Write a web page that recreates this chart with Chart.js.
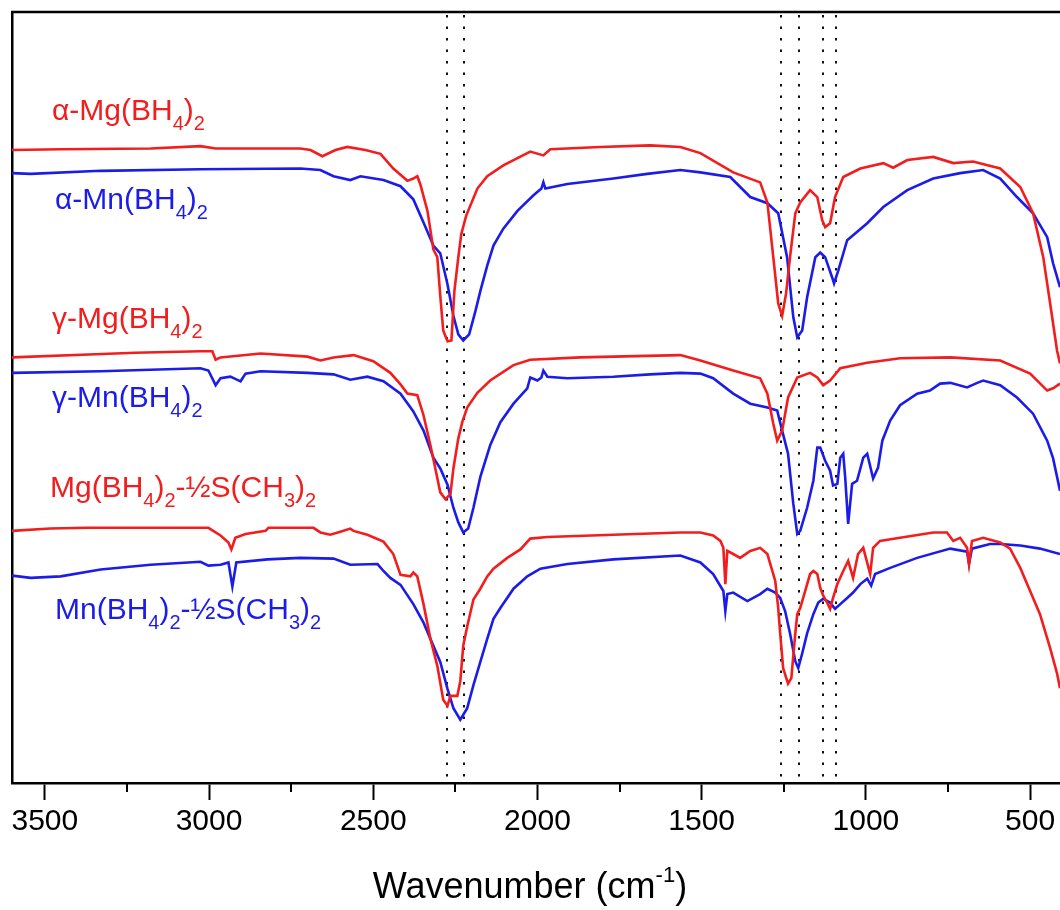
<!DOCTYPE html>
<html>
<head>
<meta charset="utf-8">
<script src="https://cdn.jsdelivr.net/npm/chart.js@4.4.1/dist/chart.umd.min.js"></script>
<style>
  html, body { margin: 0; padding: 0; background: #fff; }
</style>
</head>
<body>
<canvas id="espectro" width="1060" height="910"></canvas>
<script>
// IR spectra, wavenumber (cm-1) vs offset transmittance (a.u.)
let aMgWn = [3600,3452,3178,3026,2980,2722,2691,2655,2615,2579,2524,2478,2439,2396,2378,2366,2357,2335,2317,2305,2296,2287,2274,2262,2253,2241,2232,2217,2183,2153,2104,2022,1982,1961,1809,1657,1565,1504,1404,1322,1300,1282,1267,1255,1243,1231,1215,1200,1170,1148,1133,1124,1109,1094,1069,1017,947,917,874,795,734,674,591,530,491,460,439,418,409];
let aMgT = [82.1,82.2,82.3,82.6,82.3,82.3,82.1,81.3,82.1,82.5,82.1,81.6,79.7,78.1,78.4,78.7,77.7,74.2,69.2,68.2,63.2,58.7,57.3,57.4,63.8,68.2,71.2,73.6,77.1,78.7,80.1,81.9,81.4,82.2,82.5,82.7,82.5,81.7,79.2,77.9,75.3,68.2,62.2,60.6,63.5,68.2,73.9,75.3,76.9,76.0,73.0,72.1,72.6,76.0,78.6,79.7,80.4,79.8,80.8,81.2,80.4,80.6,79.7,77.3,73.9,68.2,62.2,56.1,54.4];

let aMnWn = [3600,3543,3330,3026,2722,2661,2621,2570,2539,2469,2417,2378,2347,2317,2296,2274,2256,2241,2226,2208,2189,2174,2153,2134,2104,2061,2013,1988,1982,1976,1909,1769,1666,1565,1504,1413,1352,1300,1267,1240,1221,1209,1194,1179,1154,1139,1124,1103,1097,1084,1057,996,947,874,795,713,643,591,540,491,448,430,409];
let aMnT = [79.1,79.0,79.4,79.6,79.7,79.5,78.7,78.2,78.7,78.2,77.4,75.7,72.7,69.7,68.7,64.7,60.6,58.2,57.4,58.2,61.2,63.8,67.1,69.7,71.9,74.2,76.2,77.1,77.9,77.1,77.7,78.4,79.0,79.5,79.2,78.6,76.0,75.2,73.9,68.2,60.4,57.8,58.7,63.0,68.2,68.8,68.2,65.6,64.8,66.5,70.4,72.6,74.7,76.9,78.4,79.1,79.5,78.4,76.0,73.9,70.8,67.4,64.3];

let gMgWn = [3600,3346,3224,3026,2990,2980,2965,2843,2700,2661,2621,2560,2500,2448,2417,2396,2366,2347,2326,2311,2296,2280,2265,2256,2241,2229,2214,2183,2144,2073,2022,1870,1565,1504,1404,1322,1300,1282,1270,1255,1237,1209,1170,1148,1130,1109,1078,996,896,743,591,500,448,430,409];
let gMgT = [55.2,55.6,55.8,56.0,56.0,54.9,55.2,55.7,55.3,54.8,55.2,55.5,54.7,53.2,51.7,50.5,50.3,47.7,43.8,40.8,37.7,36.8,37.5,40.8,44.7,46.8,48.7,50.6,52.2,54.2,54.9,55.2,55.5,54.8,53.5,52.5,50.5,46.6,44.4,45.7,50.0,52.6,53.2,52.6,51.6,52.2,53.8,54.5,55.1,55.2,54.8,53.1,50.9,51.2,51.8];

let gMnWn = [3600,3330,3026,3002,2980,2965,2935,2904,2889,2843,2700,2621,2570,2518,2469,2417,2378,2347,2317,2296,2274,2256,2241,2226,2211,2195,2174,2144,2113,2073,2031,2022,2000,1988,1982,1970,1909,1769,1657,1565,1504,1465,1404,1352,1300,1270,1255,1237,1221,1209,1200,1179,1160,1148,1139,1124,1109,1100,1087,1078,1069,1063,1054,1042,1027,1008,996,978,963,950,926,896,844,805,774,743,692,661,643,591,540,491,448,430,409];
let gMnT = [53.2,53.4,53.8,53.5,51.6,52.5,52.7,52.1,53.1,53.4,53.2,53.0,52.3,52.7,52.1,50.5,48.2,45.7,42.2,40.8,38.7,35.7,33.8,32.5,33.0,35.7,39.7,43.8,46.8,49.2,51.2,52.6,52.2,52.6,53.5,52.7,52.5,52.7,53.0,53.2,53.1,52.5,50.5,49.2,48.7,48.3,45.7,42.7,36.2,32.3,32.7,35.7,39.2,43.5,43.5,41.8,40.5,38.6,38.8,42.2,42.7,39.6,33.6,38.8,39.2,42.2,42.7,39.5,40.9,44.4,47.0,49.0,50.5,50.9,51.8,51.9,51.3,51.9,52.2,51.6,50.0,47.9,44.4,42.1,37.9];

let sMgWn = [3600,3483,3370,3002,2965,2941,2932,2920,2889,2828,2819,2682,2661,2631,2600,2570,2560,2518,2469,2439,2417,2387,2378,2366,2347,2326,2305,2287,2274,2265,2244,2235,2226,2214,2195,2174,2153,2134,2092,2052,2022,1970,1769,1565,1504,1465,1443,1434,1428,1422,1404,1383,1352,1322,1300,1291,1276,1267,1261,1252,1237,1227,1215,1209,1200,1185,1170,1160,1148,1139,1130,1118,1109,1100,1087,1069,1054,1039,1024,1008,987,978,957,896,795,753,734,713,692,686,677,643,591,561,530,500,470,439,418,409];
let sMgT = [32.7,33.0,33.1,33.1,32.1,31.2,30.3,31.8,32.3,32.7,33.1,33.1,32.5,32.2,32.6,33.0,32.7,32.2,31.3,29.7,27.0,26.8,27.3,26.8,23.2,18.7,15.2,10.8,10.0,11.3,11.3,13.2,17.8,20.3,23.8,25.2,26.8,27.8,29.2,30.3,31.7,31.9,32.2,32.5,32.5,32.1,31.4,30.5,25.8,30.1,29.7,29.2,30.1,30.5,29.7,28.4,26.2,22.7,19.4,14.9,12.9,13.6,19.4,21.9,22.7,24.9,27.1,27.5,27.1,25.3,24.3,23.4,22.6,24.0,25.8,27.5,28.8,26.6,29.7,30.5,27.1,30.5,31.4,31.8,32.5,32.5,31.4,31.8,30.5,28.4,31.4,31.8,31.2,30.4,27.9,24.9,21.9,17.5,14.2,12.3];

let sMnWn = [3600,3543,3452,3330,3178,3026,3002,2965,2941,2929,2917,2822,2722,2621,2570,2487,2469,2448,2417,2378,2347,2317,2296,2274,2256,2235,2214,2195,2174,2153,2134,2113,2073,2031,1991,1909,1769,1565,1504,1465,1434,1428,1422,1404,1361,1322,1300,1276,1261,1246,1231,1215,1206,1194,1179,1160,1145,1130,1109,1094,1078,1057,1039,1017,996,984,972,926,844,743,692,686,677,622,591,530,470,409];
let sMnT = [26.9,26.6,26.8,27.7,28.3,28.7,28.2,28.3,28.6,25.5,28.6,29.0,29.2,29.1,28.3,28.4,27.5,26.6,25.7,23.2,20.8,17.8,15.7,12.2,9.7,8.2,9.7,12.7,15.7,18.7,21.3,22.7,25.2,26.8,27.8,28.4,29.0,29.5,28.6,27.1,24.9,22.3,24.5,24.7,23.6,24.5,25.2,24.7,24.0,22.3,19.4,15.8,14.9,16.8,19.4,21.9,23.4,23.9,23.4,22.6,23.2,24.0,24.7,25.8,26.5,25.6,27.1,27.9,29.2,30.4,30.0,28.4,30.4,31.0,31.0,30.8,30.4,29.7];

// axis ticks and the dotted reference lines
let tickValues = [500,750,1000,1250,1500,1750,2000,2250,2500,2750,3000,3250,3500];
let majorTicks = [500,1000,1500,2000,2500,3000,3500];
let markerLines = [2275,2225,1260,1205,1130,1090];

const ROJO = '#f21d1d';
const AZUL = '#1c1ce8';
const FUENTE = '"Liberation Sans", Arial, sans-serif';

// series labels: [text, isSubscript] pieces, placed in pixels
let etiquetas = [
  { partes: [['α-Mg(BH',0],['4',1],[')',0],['2',1]], color: ROJO, x: 52, y: 120 },
  { partes: [['α-Mn(BH',0],['4',1],[')',0],['2',1]], color: AZUL, x: 55, y: 209 },
  { partes: [['γ-Mg(BH',0],['4',1],[')',0],['2',1]], color: ROJO, x: 52, y: 328 },
  { partes: [['γ-Mn(BH',0],['4',1],[')',0],['2',1]], color: AZUL, x: 52, y: 407 },
  { partes: [['Mg(BH',0],['4',1],[')',0],['2',1],['-½S(CH',0],['3',1],[')',0],['2',1]], color: ROJO, x: 50, y: 497 },
  { partes: [['Mn(BH',0],['4',1],[')',0],['2',1],['-½S(CH',0],['3',1],[')',0],['2',1]], color: AZUL, x: 55, y: 619 }
];

function puntos(wn, t) {
  let n = Math.min(wn.length, t.length);
  let out = [];
  for (let i = 0; i < n; i++) out.push({ x: wn[i], y: t[i] });
  return out;
}

function serie(wn, t, color) {
  return {
    data: puntos(wn, t),
    borderColor: color,
    backgroundColor: color,
    borderWidth: 2.6,
    pointRadius: 0,
    tension: 0,
    fill: false
  };
}

function textoQuimico(ctx, partes, x, y, color, size) {
  ctx.fillStyle = color;
  ctx.textBaseline = 'alphabetic';
  ctx.textAlign = 'left';
  partes.forEach(([txt, sub]) => {
    let s = sub ? Math.round(size * 0.68) : size;
    ctx.font = s + 'px ' + FUENTE;
    ctx.fillText(txt, x, sub ? y + 10 : y);
    x += ctx.measureText(txt).width;
  });
}

const decoracion = {
  id: 'decoracion',
  beforeDatasetsDraw(chart) {
    const { ctx, chartArea, scales: { x } } = chart;
    ctx.save();
    ctx.strokeStyle = '#111';
    ctx.lineWidth = 2;
    ctx.setLineDash([2.5, 9]);
    markerLines.forEach(v => {
      let px = Math.round(x.getPixelForValue(v));
      ctx.beginPath();
      ctx.moveTo(px, chartArea.top + 3);
      ctx.lineTo(px, chartArea.bottom - 6);
      ctx.stroke();
    });
    ctx.restore();
  },
  afterDraw(chart) {
    const { ctx, chartArea, scales: { x } } = chart;
    ctx.save();
    // top frame line
    ctx.strokeStyle = '#000';
    ctx.lineWidth = 2.5;
    ctx.beginPath();
    ctx.moveTo(chartArea.left - 1, chartArea.top);
    ctx.lineTo(chartArea.right, chartArea.top);
    ctx.stroke();
    // minor ticks
    ctx.lineWidth = 2;
    tickValues.filter(v => !majorTicks.includes(v)).forEach(v => {
      let px = Math.round(x.getPixelForValue(v));
      ctx.beginPath();
      ctx.moveTo(px, chartArea.bottom);
      ctx.lineTo(px, chartArea.bottom + 9);
      ctx.stroke();
    });
    // series labels
    etiquetas.forEach(e => textoQuimico(ctx, e.partes, e.x, e.y, e.color, 30));
    // axis title with superscript
    let base = '36px ' + FUENTE, sup = '22px ' + FUENTE;
    ctx.font = base; let w1 = ctx.measureText('Wavenumber (cm').width; let w3 = ctx.measureText(')').width;
    ctx.font = sup; let w2 = ctx.measureText('-1').width;
    let x0 = 530 - (w1 + w2 + w3) / 2, y0 = 898;
    ctx.fillStyle = '#000';
    ctx.textBaseline = 'alphabetic';
    ctx.font = base; ctx.fillText('Wavenumber (cm', x0, y0);
    ctx.font = sup; ctx.fillText('-1', x0 + w1, y0 - 16);
    ctx.font = base; ctx.fillText(')', x0 + w1 + w2, y0);
    ctx.restore();
  }
};

const ctx = document.getElementById('espectro').getContext('2d');
new Chart(ctx, {
  type: 'line',
  data: {
    datasets: [
      serie(aMgWn, aMgT, ROJO),
      serie(gMgWn, gMgT, ROJO),
      serie(sMgWn, sMgT, ROJO),
      serie(aMnWn, aMnT, AZUL),
      serie(gMnWn, gMnT, AZUL),
      serie(sMnWn, sMnT, AZUL)
    ]
  },
  options: {
    responsive: false,
    animation: false,
    devicePixelRatio: 1,
    layout: { padding: { left: 12, right: 0, top: 12, bottom: 66 } },
    plugins: { legend: { display: false }, tooltip: { enabled: false }, title: { display: false } },
    scales: {
      x: {
        type: 'linear',
        reverse: true,
        min: 409,
        max: 3600,
        afterBuildTicks: axis => { axis.ticks = tickValues.map(v => ({ value: v })); },
        ticks: {
          autoSkip: false,
          maxRotation: 0,
          padding: 4,
          color: '#000',
          font: { family: FUENTE, size: 30 },
          callback: v => majorTicks.includes(v) ? String(v) : ''
        },
        grid: {
          display: true,
          drawOnChartArea: false,
          drawTicks: true,
          tickLength: 17,
          tickWidth: 2,
          tickColor: c => (c.tick && majorTicks.includes(c.tick.value)) ? '#000' : 'rgba(0,0,0,0)'
        },
        border: { display: true, color: '#000', width: 2.5 }
      },
      y: {
        type: 'linear',
        min: 0,
        max: 100,
        ticks: { display: false },
        grid: { display: false, drawTicks: false, tickLength: 0 },
        border: { display: true, color: '#000', width: 2.5 }
      }
    }
  },
  plugins: [decoracion]
});
</script>
</body>
</html>
